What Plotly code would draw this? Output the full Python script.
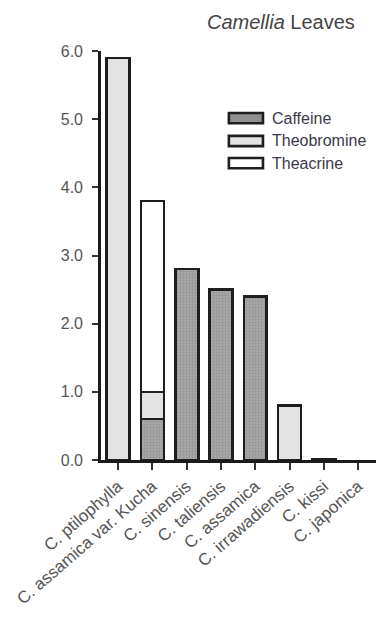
import plotly.graph_objects as go

categories = ["C. ptilophylla", "C. assamica var. Kucha", "C. sinensis", "C. taliensis",
              "C. assamica", "C. irrawadiensis", "C. kissi", "C. japonica"]
caffeine = [None, 0.6, 2.8, 2.5, 2.4, None, 0.015, None]
theobromine = [5.9, 0.4, None, None, None, 0.8, None, None]
theacrine = [None, 2.8, None, None, None, None, None, None]
series_names = ["Caffeine", "Theobromine", "Theacrine"]
y_ticks = [0, 1, 2, 3, 4, 5, 6]
y_tick_text = ["0.0", "1.0", "2.0", "3.0", "4.0", "5.0", "6.0"]

FONT = "Liberation Sans, Arial, sans-serif"
fills = {
    "Caffeine": dict(color="#9e9e9e", pattern=dict(shape=".", fgcolor="#7c7c7c", bgcolor="#a8a8a8", size=3, solidity=0.35)),
    "Theobromine": dict(color="#e3e3e3"),
    "Theacrine": dict(color="#ffffff"),
}

fig = go.Figure()
for name, vals in zip(series_names, [caffeine, theobromine, theacrine]):
    m = dict(fills[name])
    m["line"] = dict(color="#1e1e1e", width=2.6)
    fig.add_trace(go.Bar(x=categories, y=vals, name=name, marker=m, width=0.67, showlegend=False))

fig.update_layout(
    barmode="stack",
    width=379, height=621,
    margin=dict(l=101, r=3, t=51, b=161),
    paper_bgcolor="white", plot_bgcolor="white",
    font=dict(family=FONT, size=16, color="#555"),
    xaxis=dict(range=[-0.5, 7.52], showline=True, linecolor="#1a1a1a", linewidth=2.6,
               ticks="outside", ticklen=7, tickwidth=2.2, tickcolor="#333",
               tickangle=-41, tickfont=dict(size=17, color="#555"), showgrid=False),
    yaxis=dict(range=[0, 6], tickvals=y_ticks, ticktext=y_tick_text, showline=True,
               linecolor="#1a1a1a", linewidth=2.6, ticks="outside", ticklen=6, tickwidth=2.2,
               tickcolor="#333", tickfont=dict(size=16, color="#555"), showgrid=False,
               zeroline=False, ticklabelstandoff=6),
)

# title
fig.add_annotation(text="<i>Camellia</i> Leaves", xref="paper", yref="paper", x=0.655, y=1.071,
                   xanchor="center", yanchor="middle", showarrow=False,
                   font=dict(size=20, color="#444", family=FONT))

# legend drawn manually
row_y = [0.836, 0.780, 0.726]
for name, yc in zip(series_names, row_y):
    f = fills[name]
    fig.add_shape(type="rect", xref="paper", yref="paper", x0=0.465, x1=0.589,
                  y0=yc - 0.0125, y1=yc + 0.0125,
                  fillcolor=f["color"] if name != "Caffeine" else "#909090",
                  line=dict(color="#1e1e1e", width=2.6))
    fig.add_annotation(text=name, xref="paper", yref="paper", x=0.615, y=yc,
                       xanchor="left", yanchor="middle", showarrow=False,
                       font=dict(size=16, color="#3a3a4a", family=FONT))

fig.write_html("out.html")
